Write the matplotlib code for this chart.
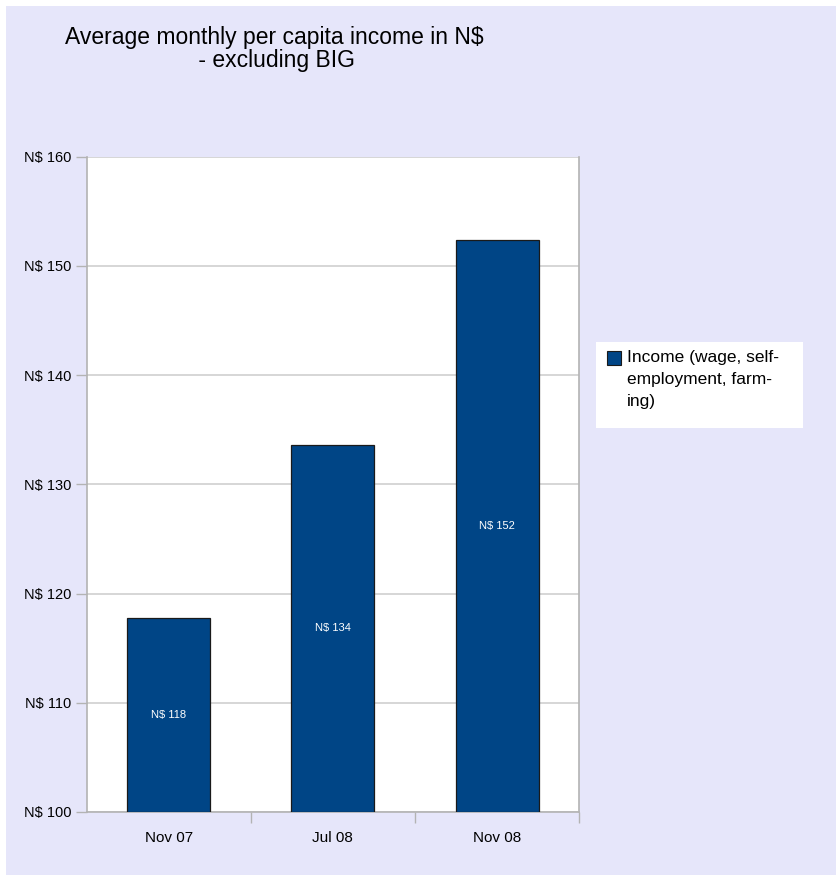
import matplotlib
matplotlib.use("Agg")
import matplotlib.pyplot as plt
from matplotlib.patches import Rectangle

categories = ["Nov 07", "Jul 08", "Nov 08"]
values = [117.8, 133.6, 152.4]
labels = ["N$ 118", "N$ 134", "N$ 152"]
yticks = [100, 110, 120, 130, 140, 150, 160]
series_name = "Income (wage, self-\nemployment, farm-\ning)"

plt.rcParams['font.family'] = ['Liberation Sans', 'DejaVu Sans']

W, H = 836, 875
fig = plt.figure(figsize=(W / 100, H / 100), dpi=100, facecolor='white')
bg = Rectangle((6 / W, 0), 1 - 6 / W, 1 - 6 / H, transform=fig.transFigure,
               facecolor='#e6e6fa', edgecolor='none', zorder=-10)
fig.patches.append(bg)

left, right, top, bottom = 86.5, 579.3, 156.5, 812
ax = fig.add_axes([left / W, 1 - bottom / H, (right - left) / W, (bottom - top) / H])
ax.set_facecolor('white')

x = list(range(len(categories)))
ax.bar(x, [v - 100 for v in values], bottom=100, width=0.505, color='#004586',
       edgecolor='#1a1a1a', linewidth=0.9, zorder=3)
for xi, v, lab in zip(x, values, labels):
    ax.text(xi, (100 + v) / 2, lab, ha='center', va='center', color='white',
            fontsize=8, zorder=4)

ax.set_xlim(-0.5, len(categories) - 0.5)
ax.set_ylim(100, 160)
ax.set_yticks(yticks)
ax.set_yticklabels([f"N$ {t}" for t in yticks], fontsize=10.5)
ax.set_xticks(x)
ax.set_xticklabels(categories, fontsize=11)
ax.set_xticks([i + 0.5 for i in range(len(categories))], minor=True)
ax.tick_params(axis='x', which='major', length=0, pad=14)
ax.tick_params(axis='x', which='minor', length=8, color='#b3b3b3', width=1)
ax.tick_params(axis='y', length=8, color='#b3b3b3', width=1, pad=3)
ax.grid(axis='y', color='#d0d0d0', linewidth=1.2, zorder=0)
for s in ['left', 'bottom', 'right']:
    ax.spines[s].set_color('#b3b3b3')
    ax.spines[s].set_linewidth(1.2)
ax.spines['top'].set_visible(False)

fig.text(274 / W, 1 - 49 / H, "Average monthly per capita income in N$\n - excluding BIG",
         ha='center', va='center', fontsize=16.5, linespacing=1.05, color='black')

# legend
lx0, ly0, lx1, ly1 = 596, 342, 803, 428
leg_bg = Rectangle((lx0 / W, 1 - ly1 / H), (lx1 - lx0) / W, (ly1 - ly0) / H,
                   transform=fig.transFigure, facecolor='white', edgecolor='none')
fig.patches.append(leg_bg)
sq = Rectangle((607 / W, 1 - 365 / H), 14 / W, 14 / H, transform=fig.transFigure,
               facecolor='#004586', edgecolor='#1a1a1a', linewidth=0.8)
fig.patches.append(sq)
fig.text(627 / W, 1 - 350 / H, series_name, ha='left', va='top', fontsize=12.5,
         linespacing=1.6, color='black')

fig.savefig("out.png", dpi=100, facecolor=fig.get_facecolor())
